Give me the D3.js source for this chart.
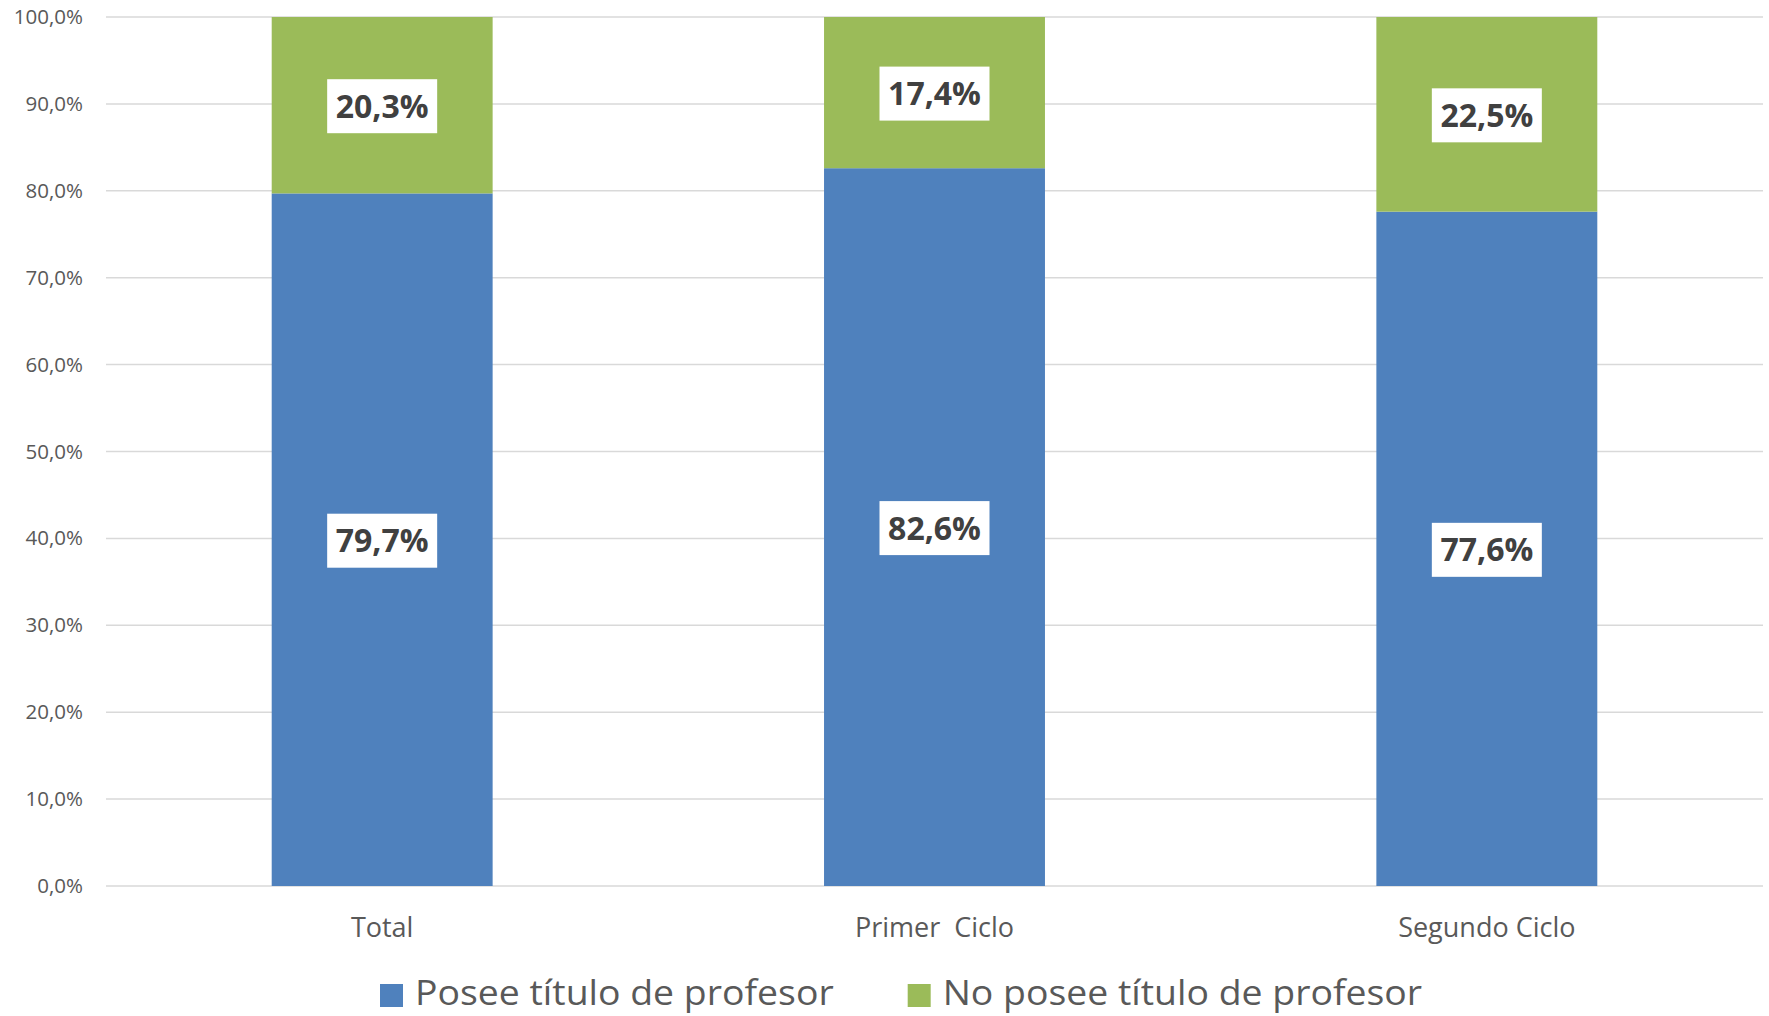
<!DOCTYPE html>
<html>
<head>
<meta charset="utf-8">
<script src="https://cdn.jsdelivr.net/npm/d3@7"></script>
<style>
  body { margin: 0; background: #fff; }
  svg { display: block; font-family: 'Open Sans', sans-serif; }
</style>
</head>
<body>
<svg id="svg" width="1769" height="1016"></svg>
<script>
// data
const categories = ['Total', 'Primer  Ciclo', 'Segundo Ciclo'];
const seriesNames = ['Posee título de profesor', 'No posee título de profesor'];
const posee = [79.7, 82.6, 77.6];
const noPosee = [20.3, 17.4, 22.5];
const yTicks = [0, 10, 20, 30, 40, 50, 60, 70, 80, 90, 100];
const colours = ['#4F81BD', '#9BBB59'];

const config = {
  width: 1769,
  height: 1016,
  left: 106,
  right: 1763,
  top: 17,
  bottom: 886,
};

const svg = d3.select('#svg');

const rows = categories.map((c, i) => ({ cat: c, posee: posee[i], noPosee: noPosee[i] }));
const keys = ['posee', 'noPosee'];
const stacked = d3.stack().keys(keys)(rows);

const xScale = d3.scaleBand()
  .domain(categories)
  .range([config.left, config.right])
  .paddingInner(0.6)
  .paddingOuter(0.3);

const yScale = d3.scaleLinear()
  .domain([0, 100])
  .range([config.bottom, config.top])
  .clamp(true);

const fmt = v => d3.format('.1f')(v).replace('.', ',');

// gridlines
svg.append('g')
  .attr('class', 'grid')
  .selectAll('line')
  .data(yTicks)
  .join('line')
  .attr('x1', config.left)
  .attr('x2', config.right)
  .attr('y1', d => yScale(d))
  .attr('y2', d => yScale(d))
  .attr('stroke', '#D9D9D9')
  .attr('stroke-width', 1.5);

// y axis labels
const yAxis = d3.axisLeft(yScale)
  .tickValues(yTicks)
  .tickSize(0)
  .tickPadding(23)
  .tickFormat(d => fmt(d) + '%');

const yAxisG = svg.append('g')
  .attr('class', 'axis y-axis')
  .attr('transform', `translate(${config.left},0)`)
  .call(yAxis);
yAxisG.selectAll('path.domain').remove();
yAxisG.selectAll('text')
  .attr('fill', '#595959')
  .style('font-size', '20.5px')
  .style('font-family', "'Open Sans', sans-serif");

// bars
const layers = svg.append('g').selectAll('g.layer')
  .data(stacked)
  .join('g')
  .attr('class', 'layer')
  .attr('fill', (d, i) => colours[i]);

layers.selectAll('rect')
  .data(d => d)
  .join('rect')
  .attr('x', d => xScale(d.data.cat))
  .attr('width', xScale.bandwidth())
  .attr('y', d => yScale(d[1]))
  .attr('height', d => yScale(d[0]) - yScale(d[1]));

// data labels in white boxes
const labelData = [];
stacked.forEach(layer => {
  layer.forEach(d => {
    labelData.push({
      cat: d.data.cat,
      value: d.data[layer.key],
      mid: (yScale(d[0]) + yScale(d[1])) / 2,
    });
  });
});

const labels = svg.append('g').selectAll('g.dlabel')
  .data(labelData)
  .join('g')
  .attr('class', 'dlabel')
  .attr('transform', d => `translate(${xScale(d.cat) + xScale.bandwidth() / 2},${d.mid + 1})`);

labels.append('rect')
  .attr('x', -55)
  .attr('y', -27)
  .attr('width', 110)
  .attr('height', 54)
  .attr('fill', '#fff');

labels.append('text')
  .attr('text-anchor', 'middle')
  .attr('dy', '0.36em')
  .attr('fill', '#404040')
  .style('font-size', '32px')
  .style('font-weight', 700)
  .text(d => fmt(d.value) + '%');

// category labels
svg.append('g').selectAll('text.cat')
  .data(categories)
  .join('text')
  .attr('class', 'cat')
  .attr('x', d => xScale(d) + xScale.bandwidth() / 2)
  .attr('y', 937)
  .attr('text-anchor', 'middle')
  .attr('fill', '#595959')
  .style('font-size', '27px')
  .style('white-space', 'pre')
  .attr('xml:space', 'preserve')
  .text(d => d);

// legend (reference text is a bit wide, so stretch it slightly)
const legend = svg.append('g').attr('class', 'legend');
let lx = 380;
seriesNames.forEach((name, i) => {
  const item = legend.append('g').attr('transform', `translate(${lx},0)`);
  item.append('rect')
    .attr('x', 0)
    .attr('y', 984)
    .attr('width', 23)
    .attr('height', 23)
    .attr('fill', colours[i]);
  const t = item.append('text')
    .attr('x', 35)
    .attr('y', 1005)
    .attr('fill', '#595959')
    .style('font-size', '34px')
    .text(name);
  const w = t.node().getComputedTextLength() * 1.1;
  t.attr('textLength', w).attr('lengthAdjust', 'spacingAndGlyphs');
  lx += 35 + w + 74;
});
</script>
</body>
</html>
